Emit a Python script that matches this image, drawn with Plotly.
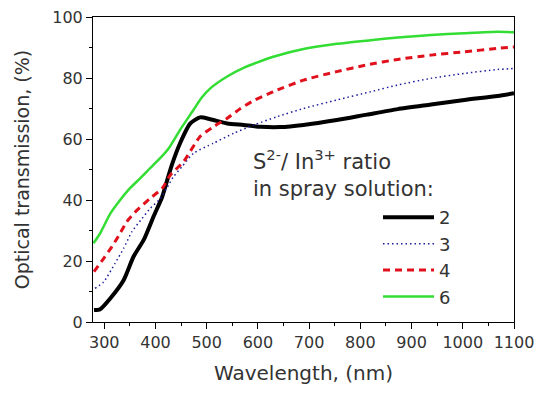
import plotly.graph_objects as go

# Transmission spectra of films sprayed with different S/In ratios
wl_2 = [280, 292, 312, 338, 357, 377, 396, 413, 422, 432, 448, 468, 487, 507, 540, 572, 605, 644, 689, 754, 813, 873, 938, 1003, 1068, 1100]
t_2 = [3.9, 4.2, 7.8, 13.8, 21.4, 26.9, 34.5, 41.0, 46.0, 51.5, 58.6, 65.1, 67.1, 66.5, 65.1, 64.6, 64.0, 63.9, 64.6, 66.2, 68.0, 69.8, 71.3, 72.8, 74.1, 75.0]

wl_3 = [282, 299, 321, 338, 354, 374, 390, 410, 435, 452, 474, 513, 553, 592, 637, 689, 754, 820, 873, 938, 1003, 1068, 1100]
t_3 = [11.0, 13.2, 19.2, 24.2, 29.6, 34.0, 37.3, 40.6, 47.6, 51.0, 55.3, 58.6, 61.9, 64.6, 67.3, 70.0, 72.8, 75.5, 77.7, 79.9, 81.5, 82.8, 83.1]

wl_4 = [280, 299, 315, 331, 344, 364, 390, 413, 429, 455, 487, 513, 540, 566, 592, 618, 637, 689, 754, 813, 873, 938, 1003, 1068, 1100]
t_4 = [16.5, 20.9, 24.7, 29.1, 32.9, 36.7, 40.6, 43.8, 48.2, 52.6, 60.8, 64.0, 66.8, 70.0, 72.6, 74.6, 76.0, 79.3, 82.1, 84.3, 86.1, 87.5, 88.6, 89.7, 90.2]

wl_6 = [279, 292, 312, 331, 348, 370, 390, 409, 426, 448, 474, 490, 507, 540, 572, 605, 637, 689, 754, 820, 873, 938, 1003, 1068, 1100]
t_6 = [25.8, 29.1, 35.6, 40.0, 43.5, 47.1, 50.5, 53.7, 57.0, 63.0, 69.5, 73.5, 76.6, 80.5, 83.3, 85.5, 87.3, 89.5, 91.2, 92.4, 93.3, 94.1, 94.7, 95.2, 95.0]

series_names = ["2", "3", "4", "6"]

FONT = "DejaVu Sans, Verdana, sans-serif"
TXT = "#333333"

fig = go.Figure()
fig.add_trace(go.Scatter(x=wl_2, y=t_2, mode="lines", name=series_names[0],
                         line=dict(color="black", width=4, shape="spline", smoothing=0.6)))
fig.add_trace(go.Scatter(x=wl_3, y=t_3, mode="lines", name=series_names[1],
                         line=dict(color="#1c1c9c", width=1.5, dash="1.5px,3px", shape="spline", smoothing=0.6)))
fig.add_trace(go.Scatter(x=wl_4, y=t_4, mode="lines", name=series_names[2],
                         line=dict(color="#e0101c", width=3, dash="7px,5px", shape="spline", smoothing=0.6)))
fig.add_trace(go.Scatter(x=wl_6, y=t_6, mode="lines", name=series_names[3],
                         line=dict(color="#33dd33", width=2.5, shape="spline", smoothing=0.6)))

axis_common = dict(
    showline=True, linecolor="black", linewidth=1, mirror=True,
    ticks="outside", ticklen=6, tickcolor="black", tickwidth=1,
    showgrid=False, zeroline=False, ticklabeloverflow="allow", automargin=False,
    tickfont=dict(family=FONT, size=16, color=TXT),
)

fig.update_xaxes(range=[278, 1100], tickmode="array",
                 tickvals=[300, 400, 500, 600, 700, 800, 900, 1000, 1100],
                 minor=dict(dtick=50, tick0=0, ticks="outside", ticklen=3, tickcolor="black"),
                 title=dict(text="Wavelength, (nm)", font=dict(family=FONT, size=20, color=TXT), standoff=14),
                 **axis_common)
fig.update_yaxes(range=[0, 100], dtick=20,
                 minor=dict(dtick=10, ticks="outside", ticklen=3, tickcolor="black"),
                 title=dict(text="Optical transmission, (%)", font=dict(family=FONT, size=19, color=TXT), standoff=17),
                 **axis_common)

fig.add_annotation(xref="paper", yref="paper", x=0.375, y=0.39, xanchor="left", yanchor="bottom",
                   align="left", showarrow=False,
                   text="S<sup>2-</sup>/ In<sup>3+</sup> ratio<br>in spray solution:",
                   font=dict(family=FONT, size=21, color=TXT))

fig.update_layout(
    width=534, height=394,
    margin=dict(l=93, r=20, t=17, b=72, autoexpand=False),
    paper_bgcolor="white", plot_bgcolor="white",
    showlegend=True,
    legend=dict(x=0.677, y=0.403, xanchor="left", yanchor="top",
                bgcolor="rgba(0,0,0,0)", font=dict(family=FONT, size=18, color=TXT),
                itemwidth=51, tracegroupgap=0),
)

fig.write_html("out.html")
